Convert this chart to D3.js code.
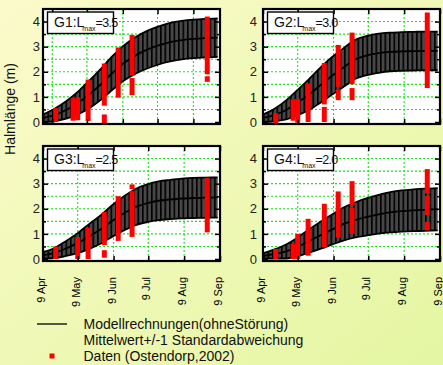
<!DOCTYPE html>
<html>
<head>
<meta charset="utf-8">
<script src="https://cdn.jsdelivr.net/npm/d3@7"></script>
<style>
    body { margin: 0; }
    svg { display: block; font-family: Arial, "Liberation Sans", sans-serif; }
</style>
</head>
<body>
<div id="chart"></div>
<script>
// season and axis ticks
const startDate = '2002-04-09';
const endDate = '2002-09-09';
const monthTicks = ['2002-04-09', '2002-05-09', '2002-06-09', '2002-07-09', '2002-08-09', '2002-09-09'];
const monthLabels = ['9 Apr', '9 May', '9 Jun', '9 Jul', '9 Aug', '9 Sep'];
// the G1 panel has its grid drawn a week later than the others
const g1GridDates = ['2002-04-17', '2002-05-17', '2002-06-17', '2002-07-17', '2002-08-17'];
const yTicks = [0, 1, 2, 3, 4];
const yMinor = [0.5, 1.5, 2.5, 3.5];
const yGrid = [0.5, 1, 1.5, 2, 2.5, 3, 3.5, 4];

// model runs: days after 9 Apr, mean and standard deviation (m)
const modelDays = [0, 10, 20, 30, 40, 50, 60, 70, 80, 90, 100, 110, 120, 130, 140, 151];
const g1Mean = [0.15, 0.28, 0.48, 0.75, 1.1, 1.5, 1.95, 2.35, 2.65, 2.88, 3.05, 3.18, 3.26, 3.31, 3.34, 3.36];
const g1Sd   = [0.15, 0.25, 0.35, 0.45, 0.55, 0.62, 0.67, 0.7, 0.73, 0.75, 0.76, 0.77, 0.77, 0.77, 0.77, 0.77];
const g2Mean = [0.15, 0.28, 0.48, 0.78, 1.1, 1.48, 1.85, 2.18, 2.5, 2.65, 2.74, 2.79, 2.81, 2.82, 2.83, 2.83];
const g2Sd   = [0.15, 0.25, 0.38, 0.5, 0.62, 0.7, 0.75, 0.77, 0.78, 0.78, 0.78, 0.77, 0.77, 0.77, 0.77, 0.77];
const g3Mean = [0.15, 0.24, 0.42, 0.63, 0.9, 1.18, 1.52, 1.82, 2.07, 2.22, 2.32, 2.37, 2.41, 2.43, 2.44, 2.45];
const g3Sd   = [0.13, 0.2, 0.3, 0.4, 0.5, 0.56, 0.63, 0.68, 0.72, 0.75, 0.77, 0.78, 0.79, 0.8, 0.8, 0.8];
const g4Mean = [0.12, 0.2, 0.3, 0.48, 0.72, 0.95, 1.18, 1.4, 1.56, 1.68, 1.78, 1.86, 1.91, 1.94, 1.96, 1.98];
const g4Sd   = [0.1, 0.18, 0.28, 0.38, 0.46, 0.54, 0.6, 0.66, 0.7, 0.74, 0.77, 0.8, 0.82, 0.83, 0.84, 0.84];

// field data (Ostendorp 2002): [date, from, to] in m
const g1Data = [
    ['2002-04-20', 0, 0.55], ['2002-05-05', 0.05, 0.95], ['2002-05-09', 0.07, 0.98],
    ['2002-05-18', 0.04, 1.69], ['2002-06-01', 0.65, 2.33], ['2002-06-01', -0.05, 0.3],
    ['2002-06-13', 0.97, 2.97], ['2002-06-25', 1.85, 3.47], ['2002-06-25', 1.07, 1.75],
    ['2002-08-29', 1.9, 4.2], ['2002-08-29', 1.6, 1.82]
];
const g2Data = [
    ['2002-04-20', -0.08, 0.35], ['2002-05-05', 0.05, 0.9], ['2002-05-09', -0.03, 0.92],
    ['2002-05-18', 0, 1.53], ['2002-06-01', 0.7, 2.35], ['2002-06-01', 0, 0.6],
    ['2002-06-13', 1.4, 3.07], ['2002-06-13', 0.87, 1.3], ['2002-06-25', 1.5, 3.56],
    ['2002-06-25', 0.87, 1.35], ['2002-08-29', 1.35, 4.36]
];
const g3Data = [
    ['2002-04-20', 0, 0.5], ['2002-05-09', 0, 0.87], ['2002-05-18', 0, 1.25],
    ['2002-06-01', 0.55, 1.87], ['2002-06-01', 0.05, 0.35], ['2002-06-13', 0.72, 2.5],
    ['2002-06-25', 2.78, 2.97], ['2002-06-25', 0.88, 2.7], ['2002-08-29', 1.06, 3.23]
];
const g4Data = [
    ['2002-04-20', 0, 0.4], ['2002-05-05', 0, 0.6], ['2002-05-09', 0, 1.0],
    ['2002-05-18', 0.13, 1.6], ['2002-06-01', 0.46, 2.2], ['2002-06-13', 0.85, 2.69],
    ['2002-06-25', 2.12, 3.1], ['2002-06-25', 1.0, 2.05], ['2002-08-29', 2.6, 3.58],
    ['2002-08-29', 1.75, 2.52], ['2002-08-29', 1.14, 1.48]
];

const panelNames = ['G1', 'G2', 'G3', 'G4'];
const lmaxValues = ['3.5', '3.0', '2.5', '2.0'];

const panels = [
    { mean: g1Mean, sd: g1Sd, data: g1Data, grid: g1GridDates },
    { mean: g2Mean, sd: g2Sd, data: g2Data, grid: monthTicks },
    { mean: g3Mean, sd: g3Sd, data: g3Data, grid: monthTicks },
    { mean: g4Mean, sd: g4Sd, data: g4Data, grid: monthTicks }
];

const W = 443, H = 365;
const colX = [43, 263], rowY = [9, 146];
const pw = 177, ph = 115;
const labelGap = [3, 6];
const parse = d3.timeParse('%Y-%m-%d');
const start = parse(startDate);

const svg = d3.select('#chart').append('svg')
    .attr('width', W)
    .attr('height', H);

const defs = svg.append('defs');
const grad = defs.append('linearGradient').attr('id', 'bg')
    .attr('x1', '0%').attr('y1', '0%').attr('x2', '100%').attr('y2', '100%');
grad.append('stop').attr('offset', '0%').attr('stop-color', '#fbfbcb');
grad.append('stop').attr('offset', '100%').attr('stop-color', '#e4f6a2');
svg.append('rect').attr('width', W).attr('height', H).attr('fill', 'url(#bg)');

// hatching of the +/- 1 sd band
const pat = defs.append('pattern').attr('id', 'hatch')
    .attr('patternUnits', 'userSpaceOnUse')
    .attr('width', 4.5).attr('height', 20);
pat.append('rect').attr('width', 4.5).attr('height', 20).attr('fill', '#474747');
pat.append('line').attr('x1', 0.8).attr('x2', 0.8).attr('y1', 0).attr('y2', 20)
    .attr('stroke', '#000').attr('stroke-width', 1.6);

const x = d3.scaleTime().domain([start, parse(endDate)]).range([0, pw]);
const y = d3.scaleLinear().domain([-0.08, 4.5]).range([ph, 0]);

panels.forEach((p, i) => {
    const col = i % 2, row = Math.floor(i / 2);
    const g = svg.append('g').attr('transform', `translate(${colX[col]},${rowY[row]})`);

    g.append('rect').attr('width', pw).attr('height', ph).attr('fill', '#fff');

    // grid
    g.append('g').selectAll('line')
        .data(yGrid)
        .join('line')
        .attr('x1', 0).attr('x2', pw)
        .attr('y1', d => y(d)).attr('y2', d => y(d))
        .attr('stroke', '#19e619').attr('stroke-width', 1.1)
        .attr('stroke-dasharray', '2,2');
    const gridDates = p.grid.map(parse).filter(d => x(d) > 1 && x(d) < pw - 1);
    g.append('g').selectAll('line')
        .data(gridDates)
        .join('line')
        .attr('x1', d => x(d)).attr('x2', d => x(d))
        .attr('y1', 0).attr('y2', ph)
        .attr('stroke', '#19e619').attr('stroke-width', 1.1)
        .attr('stroke-dasharray', '2,2');

    // model band
    const model = modelDays.map((d, k) => ({
        date: d3.timeDay.offset(start, d),
        mean: p.mean[k],
        sd: p.sd[k]
    }));
    g.append('path')
        .datum(model)
        .attr('fill', 'url(#hatch)')
        .attr('d', d3.area()
            .x(d => x(d.date))
            .y0(d => y(d.mean - d.sd))
            .y1(d => y(d.mean + d.sd))
            .curve(d3.curveMonotoneX));
    [d => d.mean + d.sd, d => d.mean - d.sd, d => d.mean].forEach(fn => {
        g.append('path')
            .datum(model)
            .attr('fill', 'none')
            .attr('stroke', '#000')
            .attr('stroke-width', 1.8)
            .attr('d', d3.line()
                .x(d => x(d.date))
                .y(d => y(fn(d)))
                .curve(d3.curveMonotoneX));
    });

    // field data
    g.append('g').selectAll('rect')
        .data(p.data)
        .join('rect')
        .attr('x', d => x(parse(d[0])) - 2.5)
        .attr('width', 5)
        .attr('y', d => y(d[2]))
        .attr('height', d => y(d[1]) - y(d[2]))
        .attr('fill', '#ff0000');

    // axes with inside ticks
    const tickStyle = sel => {
        sel.select('.domain').remove();
        sel.selectAll('line').attr('stroke', '#000').attr('stroke-width', 1.5);
    };
    g.append('g')
        .call(d3.axisLeft(y).tickValues(yTicks).tickSize(-5).tickPadding(labelGap[col]).tickFormat(d3.format('d')))
        .call(tickStyle)
        .call(a => a.selectAll('text')
            .attr('font-size', 13)
            .attr('font-family', 'Arial, "Liberation Sans", sans-serif')
            .attr('fill', '#222'));
    g.append('g')
        .call(d3.axisLeft(y).tickValues(yMinor).tickSize(-3).tickFormat(''))
        .call(tickStyle);
    g.append('g').attr('transform', `translate(${pw},0)`)
        .call(d3.axisRight(y).tickValues(yTicks).tickSize(-5).tickFormat(''))
        .call(tickStyle);
    g.append('g').attr('transform', `translate(${pw},0)`)
        .call(d3.axisRight(y).tickValues(yMinor).tickSize(-3).tickFormat(''))
        .call(tickStyle);
    g.append('g').attr('transform', `translate(0,${ph})`)
        .call(d3.axisBottom(x).tickValues(p.grid.map(parse)).tickSize(-5).tickFormat(''))
        .call(tickStyle);
    g.append('g')
        .call(d3.axisTop(x).tickValues(p.grid.map(parse)).tickSize(-5).tickFormat(''))
        .call(tickStyle);

    // month labels under the bottom row
    if (row === 1) {
        g.append('g').selectAll('text')
            .data(monthTicks)
            .join('text')
            .attr('transform', d => `translate(${x(parse(d))},${ph + 16}) rotate(-90)`)
            .attr('text-anchor', 'end')
            .attr('dy', '0.2em')
            .attr('font-size', 11)
            .attr('fill', '#000')
            .text((d, k) => monthLabels[k]);
    }

    // frame
    g.append('rect').attr('width', pw).attr('height', ph)
        .attr('fill', 'none').attr('stroke', '#000').attr('stroke-width', 2.2);

    // panel label box
    const box = g.append('g').attr('transform', 'translate(4.5,3)');
    box.append('rect').attr('width', 66).attr('height', 21.5)
        .attr('fill', '#fff').attr('stroke', '#000').attr('stroke-width', 1.4);
    const t = box.append('text').attr('x', 6.5).attr('y', 14.5)
        .attr('font-size', 14).attr('fill', '#111');
    t.append('tspan').text(panelNames[i] + ':L');
    t.append('tspan').attr('font-size', 7).attr('dx', -2).attr('dy', 4).text('max');
    t.append('tspan').attr('font-size', 12.5).attr('dy', -4).attr('letter-spacing', -0.7)
        .text('=' + lmaxValues[i]);
});

// y axis title
svg.append('text')
    .attr('transform', 'translate(15,109) rotate(-90)')
    .attr('text-anchor', 'middle')
    .attr('font-size', 14)
    .attr('fill', '#111')
    .text('Halmlänge (m)');

// legend
const legend = svg.append('g');
legend.append('line')
    .attr('x1', 37).attr('x2', 67).attr('y1', 324).attr('y2', 324)
    .attr('stroke', '#000').attr('stroke-width', 1.3);
legend.append('rect')
    .attr('x', 49.5).attr('y', 353.5).attr('width', 5).attr('height', 5)
    .attr('fill', '#ff0000');
const legendTexts = ['Modellrechnungen(ohneStörung)', 'Mittelwert+/-1 Standardabweichung', 'Daten (Ostendorp,2002)'];
legend.selectAll('text')
    .data(legendTexts)
    .join('text')
    .attr('x', 83.5)
    .attr('y', (d, k) => 329 + k * 16)
    .attr('font-size', 14)
    .attr('fill', '#111')
    .text(d => d);
</script>
</body>
</html>
